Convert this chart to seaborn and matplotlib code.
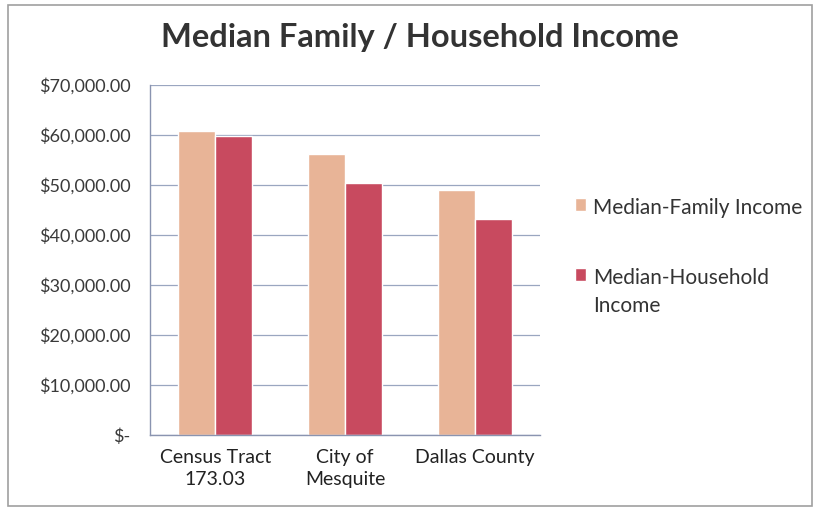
import pandas as pd
import matplotlib.pyplot as plt
import seaborn as sns
from matplotlib.ticker import FuncFormatter, MultipleLocator
from matplotlib.patches import Rectangle

# values
areas = ['Census Tract\n173.03', 'City of\nMesquite', 'Dallas County']
family_income = [60800, 56200, 49100]
household_income = [59900, 50500, 43300]
series = ['Median-Family Income', 'Median-Household\nIncome']

data = pd.DataFrame({
    'Area': areas * 2,
    'Series': [series[0]] * 3 + [series[1]] * 3,
    'Income': family_income + household_income,
})

sns.set_style('white')
plt.rcParams['font.family'] = ['Lato', 'DejaVu Sans']

fig = plt.figure(figsize=(8.16, 5.12), dpi=100)
ax = fig.add_axes([0.184, 0.150, 0.478, 0.684])

sns.barplot(data=data, x='Area', y='Income', hue='Series',
            palette=['#E8B497', '#C84A5F'], width=0.57, saturation=1,
            ax=ax)

ax.set_ylim(0, 70000)
ax.set_xlim(-0.5, 2.5)
ax.yaxis.set_major_locator(MultipleLocator(10000))
ax.yaxis.set_major_formatter(FuncFormatter(
    lambda v, p: '$-' if v == 0 else f'${v:,.2f}'))
ax.grid(axis='y', color='#9AA6C0', linewidth=0.9)
ax.set_axisbelow(True)
for s in ['top', 'right']:
    ax.spines[s].set_visible(False)
for s in ['left', 'bottom']:
    ax.spines[s].set_color('#8A94B0')
    ax.spines[s].set_linewidth(1)

ax.tick_params(axis='y', which='major', direction='inout', length=8,
               color='#8A94B0', labelsize=13, labelcolor='#3a3a3a', pad=10)
ax.tick_params(axis='x', which='major', length=0, labelsize=14,
               labelcolor='#222222', pad=10)
for t in ax.get_xticklabels():
    t.set_linespacing(1.35)
ax.set_xticks([-0.5, 0.5, 1.5, 2.5], minor=True)
ax.tick_params(axis='x', which='minor', direction='out', length=6,
               color='#8A94B0')
ax.set_xlabel('')
ax.set_ylabel('')

leg = ax.legend(loc='upper left', bbox_to_anchor=(1.04, 0.73), frameon=False,
                fontsize=15, handlelength=0.55, handleheight=0.55,
                handletextpad=0.35, labelspacing=2.4, labelcolor='#333333')
for t in leg.get_texts():
    t.set_linespacing(1.5)
# put each swatch beside the first line of its label
for column in leg._legend_handle_box.get_children():
    for item in column.get_children():
        item.align = 'top'

fig.suptitle('Median Family / Household Income', x=0.515, y=0.955,
             fontsize=23.5, fontweight='bold', color='#333333')

# outer chart border
fig.patches.append(Rectangle((0.01, 0.012), 0.985, 0.978,
                             transform=fig.transFigure, fill=False,
                             edgecolor='#A0A0A0', linewidth=1.2))

plt.savefig('out.png', dpi=100)
